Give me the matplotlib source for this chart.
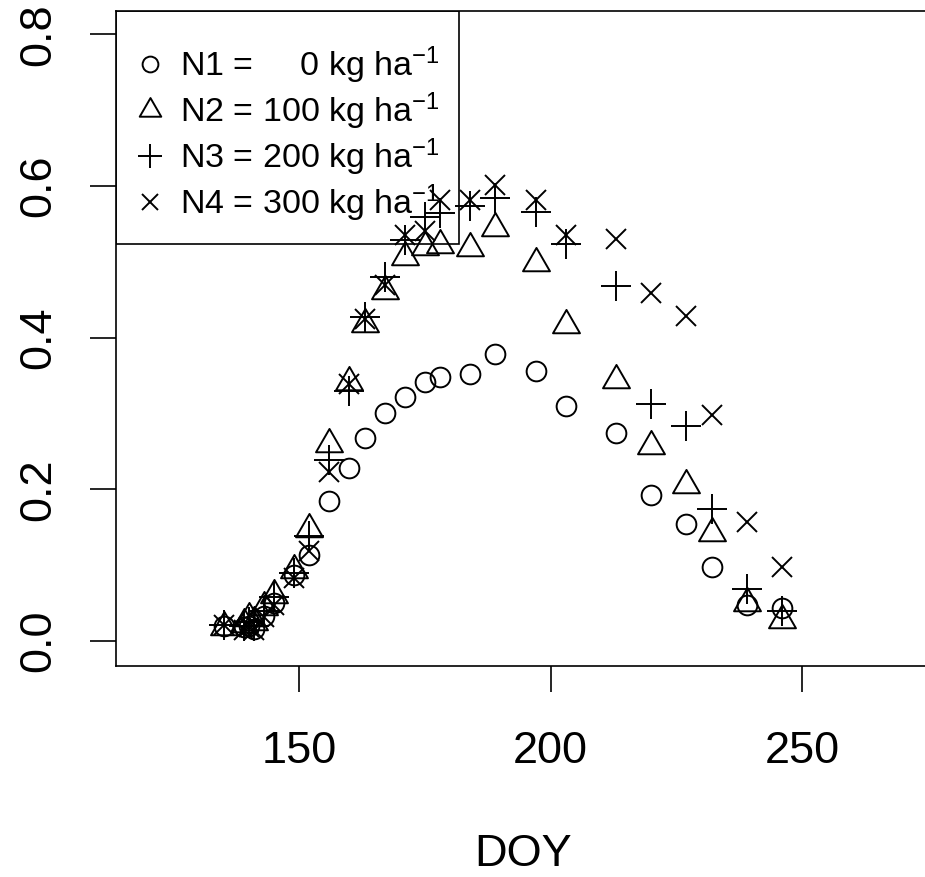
import matplotlib
matplotlib.use("Agg")
import matplotlib.pyplot as plt
from matplotlib.path import Path
from matplotlib.patches import Rectangle

plt.rcParams['font.family'] = ['Liberation Sans', 'DejaVu Sans']
plt.rcParams['mathtext.fontset'] = 'custom'
plt.rcParams['mathtext.rm'] = 'Liberation Sans'
plt.rcParams['mathtext.it'] = 'Liberation Sans'
plt.rcParams['mathtext.default'] = 'regular'

# Day of year of each sampling date
doy = [135, 139, 140, 141, 143, 145, 149, 152, 156, 160, 163, 167, 171,
       175, 178, 184, 189, 197, 203, 213, 220, 227, 232, 239, 246]

# Measured values for the four nitrogen rates
n1 = [0.020, 0.018, 0.020, 0.016, 0.033, 0.050, 0.087, 0.113, 0.184, 0.228,
      0.267, 0.301, 0.322, 0.342, 0.348, 0.352, 0.379, 0.356, 0.310, 0.274,
      0.192, 0.154, 0.097, 0.047, 0.044]
n2 = [0.018, 0.022, 0.030, 0.025, 0.045, 0.060, 0.093, 0.148, 0.260, 0.341,
      0.418, 0.462, 0.506, 0.520, 0.522, 0.518, 0.544, 0.499, 0.417, 0.344,
      0.257, 0.205, 0.143, 0.050, 0.028]
n3 = [0.021, 0.020, 0.025, 0.020, 0.040, 0.058, 0.089, 0.138, 0.239, 0.329,
      0.427, 0.480, 0.529, 0.559, 0.564, 0.573, 0.584, 0.565, 0.523, 0.468,
      0.313, 0.283, 0.174, 0.069, 0.039]
n4 = [0.021, 0.015, 0.018, 0.014, 0.032, 0.048, 0.083, 0.118, 0.223, 0.339,
      0.425, 0.469, 0.535, 0.540, 0.581, 0.581, 0.601, 0.581, 0.535, 0.530,
      0.459, 0.428, 0.298, 0.157, 0.098]

labels = [r'N1 =     0 kg ha$^{-1}$',
          r'N2 = 100 kg ha$^{-1}$',
          r'N3 = 200 kg ha$^{-1}$',
          r'N4 = 300 kg ha$^{-1}$']

x_ticks = [150, 200, 250]
y_ticks = [0.0, 0.2, 0.4, 0.6, 0.8]
y_ticklabels = ['0.0', '0.2', '0.4', '0.6', '0.8']

# Open triangle with its centroid on the data point
tri = Path([(0, 1.555), (-1.347, -0.778), (1.347, -0.778), (0, 1.555)],
           [Path.MOVETO, Path.LINETO, Path.LINETO, Path.CLOSEPOLY])

W, H = 925, 877
fig = plt.figure(figsize=(W / 100, H / 100), dpi=100)
left_px, right_px, top_px, bottom_px = 116, 931, 11, 665.7
ax_w, ax_h = right_px - left_px, bottom_px - top_px
ax = fig.add_axes([left_px / W, 1 - bottom_px / H, ax_w / W, ax_h / H])

mew = 1.4
styles = [
    dict(marker='o', ms=14.2),
    dict(marker=tri, ms=22.4),
    dict(marker='+', ms=21.0),
    dict(marker='x', ms=15.0),
]
for vals, st, lab in zip([n1, n2, n3, n4], styles, labels):
    ax.plot(doy, vals, linestyle='none', marker=st['marker'], ms=st['ms'],
            mfc='none', mec='black', mew=mew, label=lab, clip_on=False,
            zorder=3)

ax.set_xlim(113.6, 275.6)
ax.set_ylim(-0.0326, 0.8306)

for side in ['top', 'left', 'bottom']:
    ax.spines[side].set_linewidth(1.2)
ax.spines['right'].set_visible(False)

ax.set_xticks(x_ticks)
ax.set_xticklabels([str(t) for t in x_ticks])
ax.set_yticks(y_ticks)
ax.set_yticklabels(y_ticklabels, rotation=90, va='center')
ax.tick_params(axis='both', length=19, width=1.2, labelsize=32.5,
               direction='out')
ax.tick_params(axis='x', pad=28)
ax.tick_params(axis='y', pad=22)

ax.set_xlabel('DOY', fontsize=32.5)
ax.xaxis.set_label_coords(0.5, -(855 - bottom_px) / ax_h)
ax.xaxis.label.set_va('center')

# Legend entries (unframed) plus a separate box in the top-left corner
leg = ax.legend(loc='upper left',
                bbox_to_anchor=((133 - left_px) / ax_w, 1 - (44 - top_px) / ax_h),
                borderaxespad=0, borderpad=0,
                fontsize=24.5, markerscale=0.8, frameon=False,
                handlelength=1.0, handletextpad=0.38, labelspacing=0.14)
leg.set_zorder(2)

box = Rectangle((0, 1 - (244 - top_px) / ax_h), (459 - left_px) / ax_w,
                (244 - top_px) / ax_h, transform=ax.transAxes,
                fill=False, edgecolor='black', linewidth=1.2, zorder=2)
ax.add_patch(box)

fig.savefig('out.png', dpi=100)
